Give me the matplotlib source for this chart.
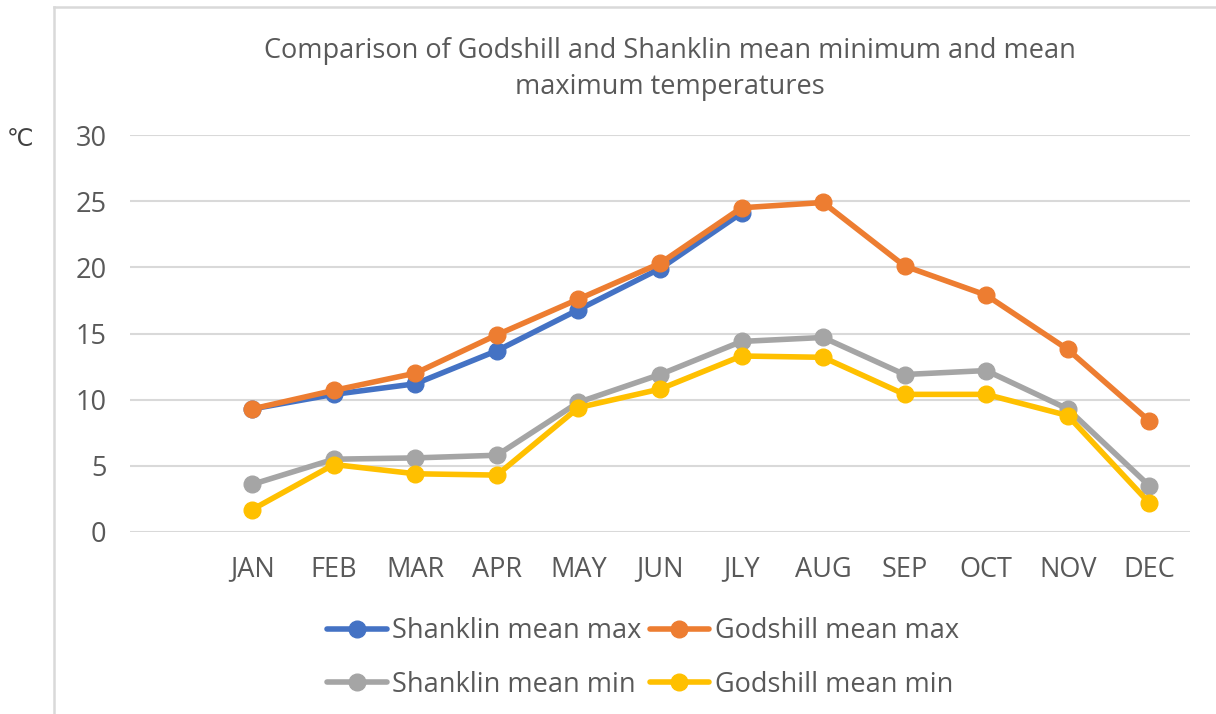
import numpy as np
import matplotlib
matplotlib.use("Agg")
import matplotlib.pyplot as plt
from matplotlib.lines import Line2D

months = ["JAN", "FEB", "MAR", "APR", "MAY", "JUN",
          "JLY", "AUG", "SEP", "OCT", "NOV", "DEC"]
nan = np.nan
shanklin_max = [9.3, 10.4, 11.2, 13.7, 16.8, 19.9, 24.1, nan, nan, nan, nan, nan]
godshill_max = [9.3, 10.7, 12.0, 14.9, 17.6, 20.3, 24.5, 24.9, 20.1, 17.9, 13.8, 8.4]
shanklin_min = [3.6, 5.5, 5.6, 5.8, 9.8, 11.9, 14.4, 14.7, 11.9, 12.2, 9.3, 3.5]
godshill_min = [1.7, 5.1, 4.4, 4.3, 9.4, 10.8, 13.3, 13.2, 10.4, 10.4, 8.8, 2.2]

series = [
    ("Shanklin mean max", shanklin_max, "#4472C4"),
    ("Godshill mean max", godshill_max, "#ED7D31"),
    ("Shanklin mean min", shanklin_min, "#A5A5A5"),
    ("Godshill mean min", godshill_min, "#FFC000"),
]

TEXT = "#595959"
GRID = "#D9D9D9"
plt.rcParams["font.family"] = ["Open Sans", "DejaVu Sans"]

fig = plt.figure(figsize=(12.16, 7.14), dpi=100)
ax = fig.add_axes([130 / 1216, 1 - 532 / 714, 1060 / 1216, 397 / 714])

x = np.arange(len(months))
lines = {}
for label, vals, color in series:
    lines[label], = ax.plot(x, vals, color=color, lw=4, marker="o", ms=12,
                            label=label, solid_capstyle="round")

ax.set_xlim(-1.5, 11.5)
ax.set_ylim(0, 30)
ax.set_yticks(range(0, 31, 5))
ax.set_xticks(x)
ax.set_xticklabels(months)
ax.tick_params(axis="both", length=0, labelsize=19.5, labelcolor=TEXT)
ax.tick_params(axis="x", pad=17)
ax.tick_params(axis="y", pad=17)
ax.grid(axis="y", color=GRID, lw=1.5)
ax.set_axisbelow(True)
for s in ax.spines.values():
    s.set_visible(False)

fig.text(670 / 1216, 1 - 69 / 714,
         "Comparison of Godshill and Shanklin mean minimum and mean\nmaximum temperatures",
         ha="center", va="center", fontsize=19.5, color=TEXT, linespacing=1.35)
fig.text(20 / 1216, 1 - 139 / 714, "℃", ha="center", va="center",
         fontsize=17, color="#404040", family=["DejaVu Sans", "Noto Sans CJK SC"])

# legend is filled row by row in the reference
order = ["Shanklin mean max", "Shanklin mean min", "Godshill mean max", "Godshill mean min"]
fig.legend([lines[k] for k in order], order, loc="center",
           bbox_to_anchor=(643 / 1216, 1 - 658 / 714), ncol=2,
           frameon=False, fontsize=19.5, labelcolor=TEXT, handlelength=2.2,
           handletextpad=0.2, columnspacing=0.3, labelspacing=0.95)

# chart border (clipped on the right and bottom)
fig.add_artist(Line2D([53.5 / 1216, 53.5 / 1216], [0, 1 - 7 / 714],
                      transform=fig.transFigure, color=GRID, lw=1.8))
fig.add_artist(Line2D([53.5 / 1216, 1], [1 - 7 / 714, 1 - 7 / 714],
                      transform=fig.transFigure, color=GRID, lw=1.8))

fig.savefig("out.png", dpi=100)
